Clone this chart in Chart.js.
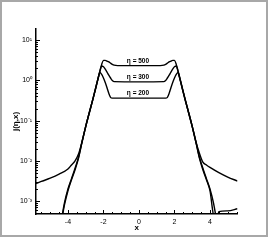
<!DOCTYPE html>
<html>
<head>
<meta charset="utf-8">
<script src="https://cdn.jsdelivr.net/npm/chart.js@4.4.1/dist/chart.umd.min.js"></script>
<style>
    html, body { margin: 0; padding: 0; background: #fff; }
    #wrap { position: relative; width: 271px; height: 241px; }
    #frame { position: absolute; left: 0; top: 0; width: 268px; height: 237px; box-sizing: border-box; border: 2px solid #a8a8a8; pointer-events: none; }
    canvas { position: absolute; left: 0; top: 0; }
</style>
</head>
<body>
<div id="wrap"><canvas id="chart" width="271" height="241"></canvas><div id="frame"></div></div>
<script>
const eta500X = [-5.8,-5.5,-5,-4.5,-4,-3.8,-3.6,-3.4,-3.2,-3,-2.8,-2.6,-2.4,-2.2,-2.1,-2,-1.9,-1.8,-1.7,-1.6,-1.5,-1.4,-1.2,0,1.2,1.4,1.5,1.6,1.7,1.8,1.9,2,2.1,2.2,2.4,2.6,2.8,3,3.2,3.4,3.6,3.8,4,4.5,5,5.55];
const eta500J = [0.00275,0.00309,0.00372,0.00468,0.00631,0.00794,0.0100,0.0151,0.0309,0.0724,0.158,0.339,0.759,1.70,2.51,3.16,3.16,3.02,2.88,2.69,2.51,2.40,2.34,2.34,2.34,2.40,2.51,2.69,2.88,3.02,3.16,3.16,2.51,1.70,0.759,0.339,0.158,0.0724,0.0309,0.0158,0.00933,0.00794,0.00692,0.00513,0.00398,0.00316];

const eta300X = [-4.4,-4.2,-4,-3.8,-3.6,-3.4,-3.2,-3,-2.8,-2.6,-2.4,-2.2,-2.1,-2,-1.9,-1.8,-1.7,-1.6,-1.5,-1.4,0,1.4,1.5,1.6,1.7,1.8,1.9,2,2.1,2.2,2.4,2.6,2.8,3,3.2,3.4,3.6,3.8,4,4.2,4.4];
const eta300J = [0.000282,0.000891,0.00200,0.00363,0.00661,0.0126,0.0309,0.0724,0.158,0.339,0.759,1.70,2.29,2.19,1.91,1.62,1.35,1.15,1.00,0.933,0.923,0.933,1.00,1.15,1.35,1.62,1.91,2.19,2.29,1.70,0.759,0.339,0.158,0.0724,0.0309,0.0126,0.00661,0.00363,0.00200,0.000891,0.000282];

const eta200X = [-4.4,-4.2,-4,-3.8,-3.6,-3.4,-3.2,-3,-2.8,-2.6,-2.4,-2.3,-2.2,-2.1,-2,-1.9,-1.8,-1.7,-1.6,-1.5,0,1.5,1.6,1.7,1.8,1.9,2,2.1,2.2,2.3,2.4,2.6,2.8,3,3.2,3.4,3.6,3.8,4,4.2,4.4,4.5,5,5.55];
const eta200J = [0.000251,0.000794,0.00182,0.00339,0.00603,0.0120,0.0302,0.0708,0.155,0.331,0.741,1.12,1.58,1.41,1.15,0.891,0.661,0.479,0.380,0.363,0.363,0.363,0.380,0.479,0.661,0.891,1.15,1.41,1.58,1.12,0.741,0.331,0.155,0.0708,0.0302,0.0120,0.00603,0.00339,0.00182,0.000447,0.000355,0.000550,0.000575,0.000646];

const curveLabels = ['η = 500', 'η = 300', 'η = 200'];
const xTicks = [-4, -2, 0, 2, 4];
const xTickLabels = ['-4', '-2', '0', '2', '4'];
const yTicks = [0.001, 0.01, 0.1, 1, 10];
const yTickLabels = ['10⁻³', '10⁻²', '10⁻¹', '10⁰', '10¹'];

const FONT = 'Liberation Sans, Arial, sans-serif';

function pairs(xs, ys) {
    return xs.map((x, i) => ({ x: x, y: ys[i] }));
}

// inward tick marks + curve labels
const innerTicks = {
    id: 'innerTicks',
    afterDraw(chart) {
        const { ctx, chartArea: a, scales: { x, y } } = chart;
        ctx.save();
        ctx.strokeStyle = '#000';
        ctx.lineWidth = 1;
        ctx.beginPath();
        for (let v = -5.5; v <= 5.5; v += 0.5) {
            const px = Math.round(x.getPixelForValue(v)) + 0.5;
            const len = xTicks.includes(v) ? 4 : 2;
            ctx.moveTo(px, a.bottom);
            ctx.lineTo(px, a.bottom - len);
        }
        for (let d = -4; d <= 1; d++) {
            for (let m = 1; m <= 9; m++) {
                const v = m * Math.pow(10, d);
                if (v < y.min || v > y.max) continue;
                const py = Math.round(y.getPixelForValue(v)) + 0.5;
                const len = m === 1 ? 4 : 2;
                ctx.moveTo(a.left, py);
                ctx.lineTo(a.left + len, py);
            }
        }
        ctx.stroke();

        ctx.fillStyle = '#000';
        ctx.font = 'bold 6.5px ' + FONT;
        ctx.textAlign = 'center';
        ctx.textBaseline = 'bottom';
        chart.data.datasets.forEach((ds, i) => {
            const mid = ds.data.find(p => p.x === 0);
            ctx.fillText(curveLabels[i], x.getPixelForValue(0) - 1, y.getPixelForValue(mid.y) - 1.5);
        });
        ctx.restore();
    }
};

const lineStyle = {
    borderColor: '#000',
    borderWidth: 1.4,
    pointRadius: 0,
    fill: false,
    cubicInterpolationMode: 'monotone'
};

new Chart(document.getElementById('chart'), {
    type: 'line',
    data: {
        datasets: [
            { label: curveLabels[0], data: pairs(eta500X, eta500J), ...lineStyle },
            { label: curveLabels[1], data: pairs(eta300X, eta300J), ...lineStyle },
            { label: curveLabels[2], data: pairs(eta200X, eta200J), ...lineStyle }
        ]
    },
    options: {
        responsive: false,
        animation: false,
        layout: { padding: { left: 0, top: 29, right: 33.5, bottom: 0 } },
        plugins: { legend: { display: false }, tooltip: { enabled: false } },
        scales: {
            x: {
                type: 'linear',
                min: -5.8,
                max: 5.55,
                afterBuildTicks: s => { s.ticks = xTicks.map(v => ({ value: v })); },
                afterFit: s => { s.height = 27; },
                grid: { display: false, drawTicks: false },
                border: { display: true, color: '#000', width: 1.5 },
                ticks: {
                    color: '#000', padding: 3.5, maxRotation: 0, autoSkip: false,
                    font: { size: 7, family: FONT },
                    callback: (v, i) => xTickLabels[i]
                },
                title: { display: true, text: 'x', color: '#000', font: { size: 8, weight: 'bold', family: FONT }, padding: { top: 0, bottom: 8 } }
            },
            y: {
                type: 'logarithmic',
                min: 4.8e-4,
                max: 19,
                afterBuildTicks: s => { s.ticks = yTicks.map(v => ({ value: v, major: true })); },
                afterFit: s => { s.width = 36; },
                grid: { display: false, drawTicks: false },
                border: { display: true, color: '#000', width: 1.5 },
                ticks: {
                    color: '#000', padding: 4, autoSkip: false,
                    font: { size: 7, family: FONT },
                    callback: (v, i) => yTickLabels[i]
                },
                title: { display: true, text: 'j(η,x)', color: '#000', font: { size: 8, weight: 'bold', family: FONT }, padding: { top: 11, bottom: 0 } }
            }
        }
    },
    plugins: [innerTicks]
});
</script>
</body>
</html>
